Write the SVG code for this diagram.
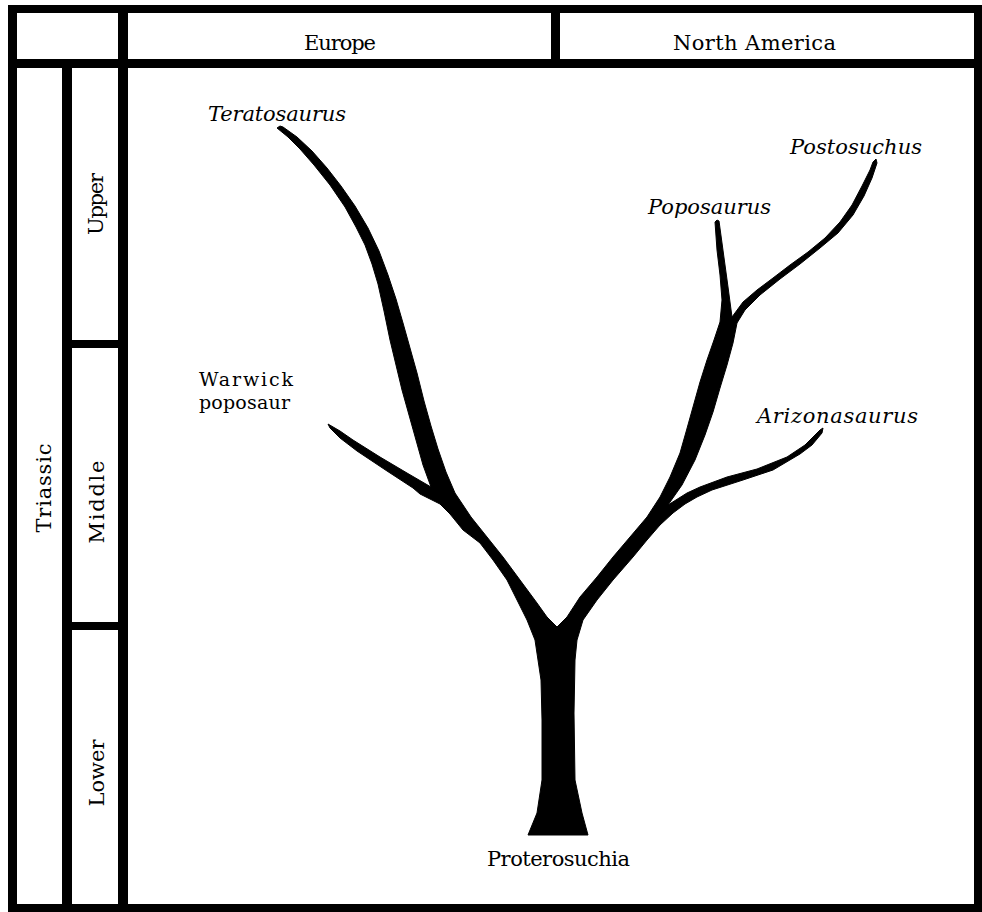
<svg xmlns="http://www.w3.org/2000/svg" width="982" height="912" viewBox="0 0 982 912">
<style>
.lbl{font-family:"DejaVu Serif","Liberation Serif",serif;font-size:21px;fill:#000}
.it{font-style:italic}
.sm{font-size:19px}
.bar{fill:#000}
</style>
<rect width="982" height="912" fill="#fff"/>
<g id="frame">
<rect class="bar" x="8" y="5" width="974" height="8"/>
<rect class="bar" x="8" y="59" width="974" height="9"/>
<rect class="bar" x="8" y="904" width="974" height="8"/>
<rect class="bar" x="8" y="5" width="9" height="907"/>
<rect class="bar" x="974" y="5" width="8" height="907"/>
<rect class="bar" x="118" y="5" width="10" height="907"/>
<rect class="bar" x="551" y="5" width="9" height="63"/>
<rect class="bar" x="62" y="68" width="10" height="844"/>
<rect class="bar" x="72" y="340" width="46" height="8"/>
<rect class="bar" x="72" y="622" width="46" height="8"/>
</g>
<g id="header-europe"><text class="lbl" x="304" y="50" textLength="72">Europe</text></g>
<g id="header-north-america"><text class="lbl" x="673" y="50" textLength="163">North America</text></g>
<g id="period-triassic"><text class="lbl" transform="translate(51,488) rotate(-90)" text-anchor="middle" textLength="89">Triassic</text></g>
<g id="epoch-upper"><text class="lbl" transform="translate(103,204) rotate(-90)" text-anchor="middle" textLength="62">Upper</text></g>
<g id="epoch-middle"><text class="lbl" transform="translate(104,502) rotate(-90)" text-anchor="middle" textLength="83">Middle</text></g>
<g id="epoch-lower"><text class="lbl" transform="translate(104,773) rotate(-90)" text-anchor="middle" textLength="67">Lower</text></g>
<g id="connectors">
<path id="tree" fill="#000" stroke="#000" stroke-width="1" stroke-linejoin="round" d="M528,835 L537,813 L542,780 L542,720 L541,680 L538,660 L535,640 L527,620 L517,600 L507,580 L493,560 L480,543 L463,530 L450,514 L440,504 L420,494 L413,488 L387,471 L357,451 L340,438 L330,428 L328,424 L340,431 L353,440 L380,457 L407,473 L431,487 L423,465 L416,440 L409,415 L402,390 L396,365 L390,340 L384,311 L378,284 L372,264 L365,245 L356,227 L345,207 L330,185 L314,165 L300,149 L288,137 L277,128 L280,126 L283,127 L297,137 L312,151 L327,168 L341,186 L355,206 L368,228 L379,251 L388,275 L396,299 L403,323 L410,348 L417,373 L424,401 L431,426 L438,449 L446,472 L455,493 L471,517 L487,537 L503,557 L520,580 L537,603 L547,617 L557,627 L567,617 L580,597 L597,577 L613,557 L630,537 L647,517 L660,497 L670,477 L680,453 L686,432 L693,407 L700,382 L707,360 L714,340 L720,322 L722,300 L720,275 L717,250 L715,222 L717,220 L719,221 L722,243 L725,265 L728,287 L732,317 L743,302 L757,290 L773,278 L790,265 L808,252 L825,238 L840,222 L852,205 L862,186 L870,170 L873,162 L876,159 L877,163 L872,178 L864,196 L853,215 L838,233 L820,248 L800,264 L780,279 L760,295 L745,310 L737,323 L733,343 L727,365 L720,388 L713,412 L705,435 L695,460 L682,485 L668,505 L687,493 L700,487 L727,477 L757,469 L787,457 L805,445 L820,430 L823,428 L822,433 L812,445 L800,454 L773,470 L743,480 L712,490 L697,497 L685,504 L673,513 L660,525 L647,540 L633,557 L613,580 L597,600 L583,620 L577,640 L575,660 L574,713 L575,780 L582,813 L588,835 Z"/>
</g>
<g id="node-teratosaurus"><text class="lbl it" x="208" y="121" textLength="138">Teratosaurus</text></g>
<g id="node-warwick-poposaur"><text class="lbl sm" x="199" y="386" textLength="94">Warwick</text><text class="lbl sm" x="199" y="409" textLength="91">poposaur</text></g>
<g id="node-poposaurus"><text class="lbl it" x="648" y="214" textLength="123">Poposaurus</text></g>
<g id="node-postosuchus"><text class="lbl it" x="790" y="154" textLength="132">Postosuchus</text></g>
<g id="node-arizonasaurus"><text class="lbl it" x="757" y="423" textLength="161">Arizonasaurus</text></g>
<g id="node-proterosuchia"><text class="lbl" x="487" y="866" textLength="143">Proterosuchia</text></g>
</svg>
